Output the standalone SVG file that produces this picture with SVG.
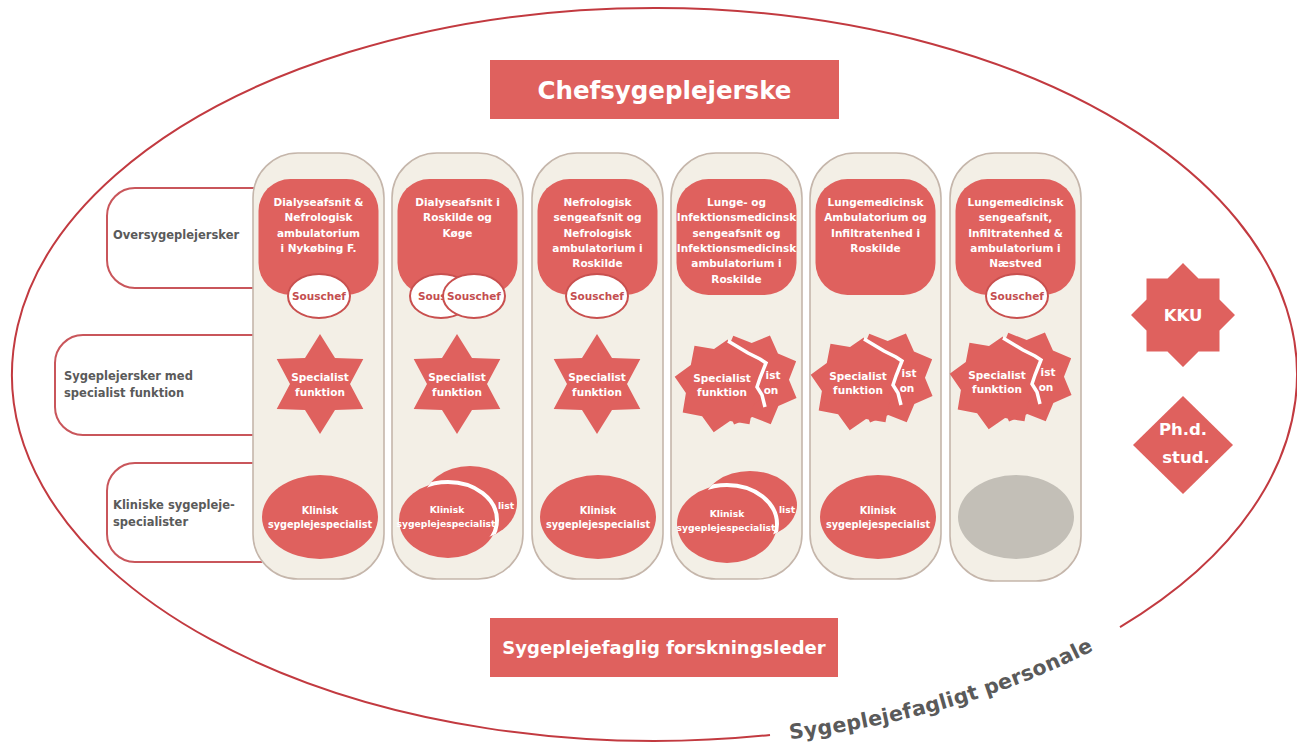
<svg xmlns="http://www.w3.org/2000/svg" xmlns:xlink="http://www.w3.org/1999/xlink" width="1297" height="746" viewBox="0 0 1297 746">
<style>
.red{fill:#df615e}
.col{fill:#f3efe6;stroke:#c5b6ab;stroke-width:1.6}
.lbl{fill:#fff;stroke:#c9565b;stroke-width:2}
.wt{font-family:"DejaVu Sans",Verdana,sans-serif;font-weight:bold;fill:#fff;text-anchor:middle}
.f10{font-size:10.5px}
.f9{font-size:9.7px}
.f9s{font-size:9.2px}
.gt{font-family:"DejaVu Sans",Verdana,sans-serif;font-weight:bold;fill:#5a5a5a;font-size:11.5px}
.arc{font-size:20.5px;letter-spacing:0.3px}
.sc{fill:#fff;stroke:#c9504f;stroke-width:2}
.sct{font-family:"DejaVu Sans",Verdana,sans-serif;font-weight:bold;fill:#c44e4f;font-size:10.5px;text-anchor:middle}
.tear{fill:none;stroke:#fff;stroke-width:3.5;stroke-linejoin:miter}
.crest{fill:none;stroke:#fff;stroke-width:4}
.outer{fill:none;stroke:#c23a40;stroke-width:2}
</style>
<defs>
<polygon id="star6" points="0,-50 15,-26 43.3,-25 30,0 43.3,25 15,26 0,50 -15,26 -43.3,25 -30,0 -43.3,-25 -15,-26"/>
<polygon id="star8" points="8.3,-47.3 19.9,-31.2 39.3,-27.5 36.1,-8 47.3,8.3 31.2,19.9 27.5,39.3 8,36.1 -8.3,47.3 -19.9,31.2 -39.3,27.5 -36.1,8 -47.3,-8.3 -31.2,-19.9 -27.5,-39.3 -8,-36.1"/>
<clipPath id="cutL"><polygon points="-70,-70 3,-70 6,-44 26,-32 38,-26 44,-22 38,-7 35,2 40,10 43,22 60,70 -70,70"/></clipPath>
<clipPath id="kb2"><ellipse cx="470" cy="503" rx="47" ry="37"/></clipPath>
<clipPath id="kb4"><ellipse cx="750" cy="505" rx="47" ry="34"/></clipPath>
<path id="arc" d="M790.1,739.3 A652 373 0 0 0 1168.3,604.2"/>
</defs>

<g id="connectors">
<path class="outer" d="M1120,627.1 A642.5 366.5 0 1 0 770,735"/>
</g>
<g id="personale">
<text class="gt arc"><textPath href="#arc" xlink:href="#arc">Sygeplejefagligt</textPath></text>
<text class="gt arc"><textPath href="#arc" xlink:href="#arc" startOffset="201.4">personale</textPath></text>
</g>

<g id="chef">
<rect class="red" x="490" y="60" width="349" height="59"/>
<text class="wt" x="664.5" y="99" style="font-size:24.5px">Chefsygeplejerske</text>
</g>
<g id="forsk">
<rect class="red" x="490" y="618" width="348" height="59"/>
<text class="wt" x="664" y="653.5" style="font-size:18px">Sygeplejefaglig forskningsleder</text>
</g>

<g id="label-over">
<path class="lbl" d="M262,188 H135 A28 28 0 0 0 107,216 V260 A28 28 0 0 0 135,288 H262"/>
<text class="gt" x="113" y="239">Oversygeplejersker</text>
</g>
<g id="label-spec">
<path class="lbl" d="M262,335 H83 A28 28 0 0 0 55,363 V407 A28 28 0 0 0 83,435 H262"/>
<text class="gt" x="64" y="380">Sygeplejersker med</text>
<text class="gt" x="64" y="397">specialist funktion</text>
</g>
<g id="label-klin">
<path class="lbl" d="M262,463 H135 A28 28 0 0 0 107,491 V534 A28 28 0 0 0 135,562 H262"/>
<text class="gt" x="113" y="509">Kliniske sygepleje-</text>
<text class="gt" x="113" y="526">specialister</text>
</g>

<!-- Column 1 -->
<g id="col1">
<rect class="col" x="253" y="153" width="131" height="426" rx="45"/>
<g id="ov1">
<rect class="red" x="258.5" y="179" width="120" height="116" rx="32"/>
<text class="wt f10" x="318.5" y="206">Dialyseafsnit &amp;</text>
<text class="wt f10" x="318.5" y="221.3">Nefrologisk</text>
<text class="wt f10" x="318.5" y="236.6">ambulatorium</text>
<text class="wt f10" x="318.5" y="251.9">i Nykøbing F.</text>
</g>
<g id="sous1"><ellipse class="sc" cx="319" cy="296" rx="31" ry="22"/><text class="sct" x="319" y="300">Souschef</text></g>
<g id="spec1" transform="translate(320,384)">
<use href="#star6" xlink:href="#star6" class="red"/>
<text class="wt f10" x="0" y="-3">Specialist</text>
<text class="wt f10" x="0" y="12">funktion</text>
</g>
<g id="klin1">
<ellipse class="red" cx="320" cy="517" rx="58" ry="42"/>
<text class="wt f9" x="320" y="513.5">Klinisk</text>
<text class="wt f9" x="320" y="528">sygeplejespecialist</text>
</g>
</g>

<!-- Column 2 -->
<g id="col2">
<rect class="col" x="392" y="153" width="131" height="426" rx="45"/>
<g id="ov2">
<rect class="red" x="397.5" y="179" width="120" height="116" rx="32"/>
<text class="wt f10" x="457.5" y="206">Dialyseafsnit i</text>
<text class="wt f10" x="457.5" y="221.3">Roskilde og</text>
<text class="wt f10" x="457.5" y="236.6">Køge</text>
</g>
<g id="sous2a"><ellipse class="sc" cx="441" cy="296" rx="31" ry="22"/><text class="sct" x="418" y="300" style="text-anchor:start">Sous</text></g>
<g id="sous2b"><ellipse class="sc" cx="474" cy="296" rx="31" ry="22"/><text class="sct" x="474" y="300">Souschef</text></g>
<g id="spec2" transform="translate(457,384)">
<use href="#star6" xlink:href="#star6" class="red"/>
<text class="wt f10" x="0" y="-3">Specialist</text>
<text class="wt f10" x="0" y="12">funktion</text>
</g>
<g id="klin2b">
<ellipse class="red" cx="470" cy="503" rx="47" ry="37"/>
<text class="wt f9s" x="506" y="508.5">list</text>
</g>
<g id="klin2a">
<ellipse class="red" cx="448" cy="520" rx="49" ry="38"/>
<ellipse class="crest" cx="448" cy="520" rx="49" ry="38" clip-path="url(#kb2)"/>
<text class="wt f9s" x="447" y="512.5">Klinisk</text>
<text class="wt f9s" x="446" y="526.5">sygeplejespecialist</text>
</g>
</g>

<!-- Column 3 -->
<g id="col3">
<rect class="col" x="532" y="153" width="131" height="426" rx="45"/>
<g id="ov3">
<rect class="red" x="537.5" y="179" width="120" height="116" rx="32"/>
<text class="wt f10" x="597.5" y="206">Nefrologisk</text>
<text class="wt f10" x="597.5" y="221.3">sengeafsnit og</text>
<text class="wt f10" x="597.5" y="236.6">Nefrologisk</text>
<text class="wt f10" x="597.5" y="251.9">ambulatorium i</text>
<text class="wt f10" x="597.5" y="267.2">Roskilde</text>
</g>
<g id="sous3"><ellipse class="sc" cx="597" cy="296" rx="31" ry="22"/><text class="sct" x="597" y="300">Souschef</text></g>
<g id="spec3" transform="translate(597,384)">
<use href="#star6" xlink:href="#star6" class="red"/>
<text class="wt f10" x="0" y="-3">Specialist</text>
<text class="wt f10" x="0" y="12">funktion</text>
</g>
<g id="klin3">
<ellipse class="red" cx="598" cy="517" rx="58" ry="42"/>
<text class="wt f9" x="598" y="513.5">Klinisk</text>
<text class="wt f9" x="598" y="528">sygeplejespecialist</text>
</g>
</g>

<!-- Column 4 -->
<g id="col4">
<rect class="col" x="671" y="153" width="131" height="426" rx="45"/>
<g id="ov4">
<rect class="red" x="676.5" y="179" width="120" height="116" rx="32"/>
<text class="wt f10" x="736.5" y="206">Lunge- og</text>
<text class="wt f10" x="736.5" y="221.3">Infektionsmedicinsk</text>
<text class="wt f10" x="736.5" y="236.6">sengeafsnit og</text>
<text class="wt f10" x="736.5" y="251.9">Infektionsmedicinsk</text>
<text class="wt f10" x="736.5" y="267.2">ambulatorium i</text>
<text class="wt f10" x="736.5" y="282.5">Roskilde</text>
</g>
<g id="spec4" transform="translate(722,385)">
<use href="#star8" xlink:href="#star8" class="red" transform="translate(30,-5) rotate(12)"/>
<text class="wt f10" x="51" y="-6">ist</text>
<text class="wt f10" x="49" y="9">on</text>
<use href="#star8" xlink:href="#star8" class="red" clip-path="url(#cutL)"/>
<polyline class="tear" points="6,-44 26,-32 38,-26 44,-22 38,-7 35,2 40,10 43,22"/>
<text class="wt f10" x="0" y="-3">Specialist</text>
<text class="wt f10" x="0" y="11">funktion</text>
</g>
<g id="klin4b">
<ellipse class="red" cx="750" cy="505" rx="47" ry="34"/>
<text class="wt f9s" x="787" y="512.5">list</text>
</g>
<g id="klin4a">
<ellipse class="red" cx="727" cy="524" rx="50" ry="39"/>
<ellipse class="crest" cx="727" cy="524" rx="50" ry="39" clip-path="url(#kb4)"/>
<text class="wt f9s" x="727" y="516.5">Klinisk</text>
<text class="wt f9s" x="726" y="530.5">sygeplejespecialist</text>
</g>
</g>

<!-- Column 5 -->
<g id="col5">
<rect class="col" x="810" y="153" width="131" height="426" rx="45"/>
<g id="ov5">
<rect class="red" x="815.5" y="179" width="120" height="116" rx="32"/>
<text class="wt f10" x="875.5" y="206">Lungemedicinsk</text>
<text class="wt f10" x="875.5" y="221.3">Ambulatorium og</text>
<text class="wt f10" x="875.5" y="236.6">Infiltratenhed i</text>
<text class="wt f10" x="875.5" y="251.9">Roskilde</text>
</g>
<g id="spec5" transform="translate(858,383)">
<use href="#star8" xlink:href="#star8" class="red" transform="translate(30,-5) rotate(12)"/>
<text class="wt f10" x="51" y="-6">ist</text>
<text class="wt f10" x="49" y="9">on</text>
<use href="#star8" xlink:href="#star8" class="red" clip-path="url(#cutL)"/>
<polyline class="tear" points="6,-44 26,-32 38,-26 44,-22 38,-7 35,2 40,10 43,22"/>
<text class="wt f10" x="0" y="-3">Specialist</text>
<text class="wt f10" x="0" y="11">funktion</text>
</g>
<g id="klin5">
<ellipse class="red" cx="878" cy="517" rx="58" ry="42"/>
<text class="wt f9" x="878" y="513.5">Klinisk</text>
<text class="wt f9" x="878" y="528">sygeplejespecialist</text>
</g>
</g>

<!-- Column 6 -->
<g id="col6">
<rect class="col" x="950" y="153" width="131" height="428" rx="45"/>
<g id="ov6">
<rect class="red" x="955.5" y="179" width="120" height="116" rx="32"/>
<text class="wt f10" x="1015.5" y="206">Lungemedicinsk</text>
<text class="wt f10" x="1015.5" y="221.3">sengeafsnit,</text>
<text class="wt f10" x="1015.5" y="236.6">Infiltratenhed &amp;</text>
<text class="wt f10" x="1015.5" y="251.9">ambulatorium i</text>
<text class="wt f10" x="1015.5" y="267.2">Næstved</text>
</g>
<g id="sous6"><ellipse class="sc" cx="1017" cy="296" rx="31" ry="22"/><text class="sct" x="1017" y="300">Souschef</text></g>
<g id="spec6" transform="translate(997,382)">
<use href="#star8" xlink:href="#star8" class="red" transform="translate(30,-5) rotate(12)"/>
<text class="wt f10" x="51" y="-6">ist</text>
<text class="wt f10" x="49" y="9">on</text>
<use href="#star8" xlink:href="#star8" class="red" clip-path="url(#cutL)"/>
<polyline class="tear" points="6,-44 26,-32 38,-26 44,-22 38,-7 35,2 40,10 43,22"/>
<text class="wt f10" x="0" y="-3">Specialist</text>
<text class="wt f10" x="0" y="11">funktion</text>
</g>
<g id="klin6">
<ellipse cx="1016" cy="517" rx="58" ry="42" fill="#c3bfb7"/>
</g>
</g>

<g id="kku">
<polygon class="red" points="1183,263 1198.5,278.5 1219.5,278.5 1219.5,299.5 1235,315 1219.5,330.5 1219.5,351.5 1198.5,351.5 1183,367 1167.5,351.5 1146.5,351.5 1146.5,330.5 1131,315 1146.5,299.5 1146.5,278.5 1167.5,278.5"/>
<text class="wt" x="1183" y="321" style="font-size:16.5px">KKU</text>
</g>
<g id="phd">
<polygon class="red" points="1183,396 1233,445 1183,494 1133,445"/>
<text class="wt" x="1183" y="435" style="font-size:16.5px">Ph.d.</text>
<text class="wt" x="1186" y="463" style="font-size:16.5px">stud.</text>
</g>
</svg>
